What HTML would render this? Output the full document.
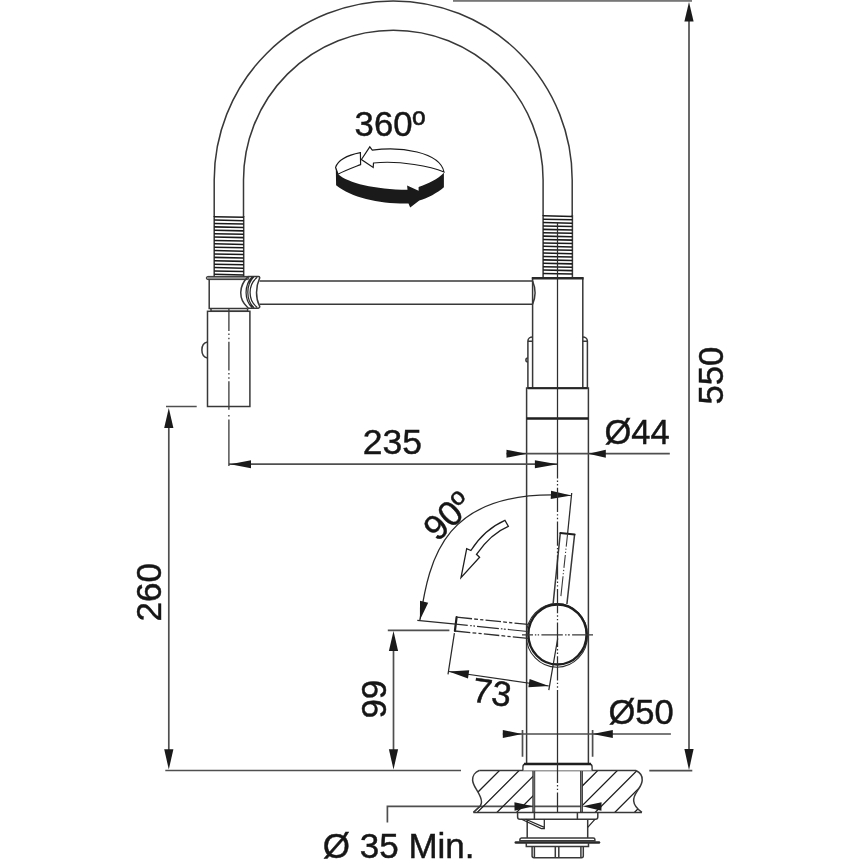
<!DOCTYPE html>
<html><head><meta charset="utf-8"><style>
html,body{margin:0;padding:0;background:#fff;width:860px;height:860px;overflow:hidden}
svg{display:block;will-change:transform}
text{font-family:"Liberation Sans",sans-serif;fill:#161616;stroke:#161616;stroke-width:0.45}
.o{fill:none;stroke:#383838;stroke-width:1.5}
.t{fill:none;stroke:#2a2a2a;stroke-width:1.25}
.d{fill:none;stroke:#4f4f4f;stroke-width:1.7}
.a{fill:#1a1a1a;stroke:none}
</style></head><body>
<svg width="860" height="860" viewBox="0 0 860 860">
<rect x="453" y="0" width="239" height="1.8" fill="#777"/>
<line class="d" x1="689" y1="12" x2="689" y2="760"/>
<path class="a" d="M689.00,2.00 L693.60,21.60 L684.40,21.60Z"/>
<path class="a" d="M689.00,770.00 L684.40,749.00 L693.60,749.00Z"/>
<line class="d" x1="649.3" y1="770.6" x2="692.3" y2="770.6"/>
<text font-size="34.7" transform="translate(723,404.5) rotate(-90)">550</text>
<path class="o" d="M214.2,217 V180 A179,179 0 0 1 572.2,180 V216"/>
<path class="o" d="M243.5,217 V180 A149.8,149.8 0 0 1 543.1,180 V216"/>
<text x="354.6" y="135.5" font-size="34.7">360º</text>
<path fill="#fff" stroke="#1a1a1a" stroke-width="1.2" stroke-linejoin="miter" d="M335.6,167.4 C338,160 348,155 360.4,152.6 L360.6,164.6 C352,168 344,171 338,174.2 Z"/>
<path fill="#fff" stroke="#1a1a1a" stroke-width="1.2" stroke-linejoin="miter" d="M361.4,159.5 L369.8,146.8 L372.3,150.2 C400,146 440,152 444,172 C432,167 400,160 373.5,163 L373.2,167.4 Z"/>
<path class="a" d="M335.8,167.6 L338.1,174.2 C348,183 375,189.5 407.5,189.7 L407.1,185.5 L418.6,190.7 L418.6,186.9 C428,184 438,179 443.9,172.8 L443.9,187.2 C437,193 428,198 419.3,200.5 L410.2,207.5 L408.5,203.5 C380,204 352,198 336.1,185.2 Z"/>
<path class="o" d="M214.2,216 V277 M243.7,216 V277"/>
<path fill="none" stroke="#1a1a1a" stroke-width="1.55" d="M214.2,216.70 L243.7,217.30 M214.2,220.09 L243.7,220.69 M214.2,223.48 L243.7,224.08 M214.2,226.87 L243.7,227.47 M214.2,230.26 L243.7,230.86 M214.2,233.65 L243.7,234.25 M214.2,237.04 L243.7,237.64 M214.2,240.43 L243.7,241.03 M214.2,243.82 L243.7,244.42 M214.2,247.21 L243.7,247.81 M214.2,250.60 L243.7,251.20 M214.2,253.99 L243.7,254.59 M214.2,257.38 L243.7,257.98 M214.2,260.77 L243.7,261.37 M214.2,264.16 L243.7,264.76 M214.2,267.55 L243.7,268.15 M214.2,270.94 L243.7,271.54 M214.2,274.33 L243.7,274.93"/>
<path class="o" d="M543.1,215 V277 M572.4,215 V277"/>
<path fill="none" stroke="#1a1a1a" stroke-width="1.55" d="M543.1,215.80 L572.4,216.40 M543.1,219.19 L572.4,219.79 M543.1,222.58 L572.4,223.18 M543.1,225.97 L572.4,226.57 M543.1,229.36 L572.4,229.96 M543.1,232.75 L572.4,233.35 M543.1,236.14 L572.4,236.74 M543.1,239.53 L572.4,240.13 M543.1,242.92 L572.4,243.52 M543.1,246.31 L572.4,246.91 M543.1,249.70 L572.4,250.30 M543.1,253.09 L572.4,253.69 M543.1,256.48 L572.4,257.08 M543.1,259.87 L572.4,260.47 M543.1,263.26 L572.4,263.86 M543.1,266.65 L572.4,267.25 M543.1,270.04 L572.4,270.64 M543.1,273.43 L572.4,274.03"/>
<path class="o" d="M259.5,281 H532.6 M259.5,304.2 H532.6"/>
<path class="o" d="M532.6,281 Q537.5,292.6 532.6,304.2"/>
<rect x="206.3" y="276.4" width="42.6" height="3.2" rx="1.5" fill="#8a8a8a" stroke="#333" stroke-width="1"/>
<path class="o" d="M209.2,279.5 V308.6 H247.6 M211,308.6 V311.3 H247.6 V308.6"/>
<rect class="o" x="207.5" y="311.3" width="42.4" height="95.2"/>
<path class="o" d="M207.5,342 C200,343.5 200,356.5 207.5,358"/>
<path class="o" fill="#fff" d="M248.1,276.6 C238.5,286 238.5,299 247,306.8 L248.5,308.3 L258.2,308.3 C260,308 260,306.5 259.3,305.5 C255.6,298 255.6,287 259.3,279 C260,278 259.8,276.6 258.5,276.6 Z"/>
<path class="t" d="M252.3,276.8 C244,285 244,300 252.3,307.8 M253.8,276.8 C245.8,285 245.8,300 254,307.8 M257.2,277.3 C247.7,285 247.7,300 257.2,307.4"/>
<path class="o" d="M532.6,277.4 V388 M582.8,277.4 V388"/>
<line x1="531.8" y1="278.2" x2="583.6" y2="278.2" stroke="#2a2a2a" stroke-width="2.6"/>
<path class="o" d="M532.6,388 H527.9 V341 A4.6,4.2 0 0 1 532.6,337 M527.9,341.2 H532.6 M582.8,388 H587.4 V341 A4.6,4.2 0 0 0 582.8,337 M587.4,341.2 H582.8"/>
<path class="o" d="M527.9,358 A2,2 0 0 0 527.9,362"/>
<rect class="o" x="526.6" y="388" width="61.8" height="375.7"/>
<line x1="526.6" y1="418.5" x2="588.4" y2="418.5" stroke="#1e1e1e" stroke-width="2.6"/>
<line x1="527.9" y1="388.2" x2="587.4" y2="388.2" stroke="#262626" stroke-width="1.9"/>
<path class="d" d="M168.8,418 V760 M166,406.5 H196.7 M165.3,770.5 H461"/>
<path class="a" d="M168.80,408.00 L173.40,428.00 L164.20,428.00Z"/>
<path class="a" d="M168.80,769.50 L164.20,749.30 L173.40,749.30Z"/>
<text font-size="35" transform="translate(160.6,621.4) rotate(-90)">260</text>
<path class="d" d="M229,464.2 H557.4"/>
<path class="a" d="M230.20,464.20 L251.00,460.20 L251.00,468.20Z"/>
<path class="a" d="M557.40,464.20 L534.90,468.20 L534.90,460.20Z"/>
<text x="362.8" y="453.8" font-size="35.5">235</text>
<path class="d" d="M506.5,453.7 H669.8"/>
<path class="a" d="M526.70,453.70 L506.50,457.70 L506.50,449.70Z"/>
<path class="a" d="M588.40,453.70 L605.80,449.70 L605.80,457.70Z"/>
<text x="604.4" y="444.2" font-size="34.5">Ø44</text>
<path class="d" d="M502.8,734 H670.9 M522.5,730 V756.7 M592.6,730 V756.7"/>
<path class="a" d="M522.10,734.00 L502.80,738.00 L502.80,730.00Z"/>
<path class="a" d="M592.60,734.00 L612.80,730.00 L612.80,738.00Z"/>
<text x="608.4" y="724" font-size="34.5">Ø50</text>
<text font-size="35" transform="translate(386,718.6) rotate(-90)">99</text>
<path class="d" d="M393.5,640 V760"/>
<path class="a" d="M393.50,631.00 L398.10,651.00 L388.90,651.00Z"/>
<path class="a" d="M393.50,769.50 L388.90,749.30 L398.10,749.30Z"/>
<text x="322.8" y="857.8" font-size="35">Ø 35 Min.</text>
<path class="d" d="M387.4,822.4 V806.4 H581.3"/>
<ellipse cx="556.9" cy="635.4" rx="30.6" ry="31.9" fill="none" stroke="#2e2e2e" stroke-width="1.1"/>
<ellipse cx="557.45" cy="634.5" rx="29.1" ry="30" fill="#fff" stroke="#1e1e1e" stroke-width="2.4"/>
<line x1="522" y1="634.9" x2="593" y2="634.9" stroke="#3a3a3a" stroke-width="1.3" stroke-dasharray="11 1.9 1.4 1.4 1.4 2.3 21.4 2.3 1.4 1.4 1.9 2.3 30"/>
<path class="o" d="M553.1,604.2 L560.3,533 M566.9,604.2 L574.6,534.4"/>
<path fill="none" stroke="#1e1e1e" stroke-width="2" stroke-linecap="round" d="M560.3,533 L574.6,534.4"/>
<path class="t" d="M571.7,493 L567.6,533.7"/>
<path fill="none" stroke="#3a3a3a" stroke-width="1.1" stroke-dasharray="13 2 1.2 2 1.2 2 13 2 1.2 2 1.2 2 20" d="M567.6,533.7 L560,604.5"/>
<path fill="none" stroke="#1e1e1e" stroke-width="2.2" stroke-linecap="round" d="M456.6,617.2 L454.9,631"/>
<path fill="none" stroke="#2e2e2e" stroke-width="1.3" stroke-dasharray="15.5 2.2 3.8 2.2 3.2 2.2" d="M456.6,617.2 L527.9,624.4 M454.9,631 L527.9,638.4"/>
<path fill="none" stroke="#2e2e2e" stroke-width="1.2" stroke-dasharray="12 2.5 1.6 1.6 1.6 2 22 2 1.6 1.4 2 2 20" d="M455.8,624.1 L527.6,631.5"/>
<path class="t" d="M417.3,620.3 L455.8,624.1"/>
<path class="d" d="M387.8,630.4 H449.4"/>
<path class="t" stroke-width="1.4" d="M419.9,620 C429.4,557.9 443.5,487.5 570.8,495.5"/>
<path class="a" d="M571.20,495.60 L550.74,498.90 L551.06,490.70Z"/>
<path class="a" d="M419.90,620.00 L420.01,600.76 L428.19,602.64Z"/>
<text font-size="35" text-anchor="middle" transform="translate(447.5,515.7) rotate(-44)" y="12.3">90º</text>
<path fill="#fff" stroke="#1e1e1e" stroke-width="1.3" stroke-linejoin="miter" d="M504.9,520.3 L508.3,526.3 C497,531 485,542 476.5,554.3 L479.6,557.3 L461,577.7 L466.7,548.6 L470.9,550.5 C480,536 492,526 504.9,520.3 Z"/>
<path class="t" d="M454.4,633.2 L448,674.4 M557.7,638.5 L548.8,690.2"/>
<path class="t" stroke-width="1.3" d="M448.8,671.5 L548.8,686"/>
<path class="a" d="M448.80,671.50 L469.21,670.24 L467.99,678.56Z"/>
<path class="a" d="M548.80,686.00 L528.39,687.26 L529.61,678.94Z"/>
<text font-size="35" transform="translate(471,701.5) rotate(8.25)">73</text>
<clipPath id="cl"><path d="M479.2,770.5 C475,772 472.4,776 472.6,780.1 C473,786 477,789 480.4,797 C482,801 481.5,804 480.4,805.7 L473.4,812.4 H533.8 V770.5 Z"/></clipPath>
<clipPath id="cr"><path d="M581.5,770.5 H636 C640,772.5 642.5,776 642.2,780.1 C642,785 639,788 637.2,791.2 C634,796 633.5,798 633.7,801 C634,805 636,808 641.9,812.4 H581.5 Z"/></clipPath>
<path clip-path="url(#cl)" fill="none" stroke="#1e1e1e" stroke-width="1.3" d="M440.00,830 L510.00,760 M459.65,830 L529.65,760 M479.30,830 L549.30,760 M498.95,830 L568.95,760 M518.60,830 L588.60,760 M538.25,830 L608.25,760 M557.90,830 L627.90,760 M577.55,830 L647.55,760 M597.20,830 L667.20,760 M616.85,830 L686.85,760 M473.4,812.4 L480.4,805.7"/>
<path clip-path="url(#cr)" fill="none" stroke="#1e1e1e" stroke-width="1.3" d="M440.00,830 L510.00,760 M459.65,830 L529.65,760 M479.30,830 L549.30,760 M498.95,830 L568.95,760 M518.60,830 L588.60,760 M538.25,830 L608.25,760 M557.90,830 L627.90,760 M577.55,830 L647.55,760 M597.20,830 L667.20,760 M616.85,830 L686.85,760"/>
<path class="o" d="M479.2,770.5 C475,772 472.4,776 472.6,780.1 C473,786 477,789 480.4,797 C482,801 481.5,804 480.4,805.7 L473.4,812.4"/>
<path class="o" d="M636,770.5 C640,772.5 642.5,776 642.2,780.1 C642,785 639,788 637.2,791.2 C634,796 633.5,798 633.7,801 C634,805 636,808 641.9,812.4"/>
<path class="o" d="M479.2,770.5 H636 M473.4,812.4 H641.9"/>
<rect x="532.8" y="770.5" width="2" height="41.6" fill="#777" stroke="#2a2a2a" stroke-width="0.8"/>
<rect x="580.5" y="770.5" width="2" height="41.6" fill="#777" stroke="#2a2a2a" stroke-width="0.8"/>
<path fill="#fff" stroke="#2e2e2e" stroke-width="1.3" d="M522.9,770.5 V767 Q522.9,764 525.5,764 H589.5 Q592.1,764 592.1,767 V770.5"/>
<line x1="524" y1="764" x2="591" y2="764" stroke="#1e1e1e" stroke-width="2.4"/>
<path class="a" d="M533.00,806.30 L514.55,810.80 L514.45,802.20Z"/>
<path class="a" d="M582.50,806.30 L601.55,802.20 L601.45,810.80Z"/>
<path class="o" d="M517.6,812.4 V817 Q517.6,819.3 520,819.3 H595.5 Q597.8,819.3 597.8,817 V812.4 M534.4,812.4 V819.3 M577.4,812.4 V819.3"/>
<path class="o" d="M527.2,819.3 V837.9 M587.7,819.3 V837.9"/>
<path class="t" stroke-width="1.3" d="M521.6,819.3 L541.4,828.6 L544.3,828.6 V819.3 M525.7,819.3 L544.3,827.4 M587.7,827.4 L594.9,819.3"/>
<path class="o" d="M521.5,837.9 Q519.9,838 519.9,839.4 V840.8 H594.9 V839.4 Q594.9,837.9 593.3,837.9 Z"/>
<line x1="515.8" y1="842.5" x2="599" y2="842.5" stroke="#2a2a2a" stroke-width="2.5" stroke-linecap="round"/>
<path class="o" d="M526.3,842.6 V846.6 H588.5 V842.6"/>
<path class="o" d="M532.1,846.6 V856 Q532.1,857.7 534,857.7 H581.5 Q583.3,857.7 583.3,856 V846.6 M534.4,846.6 V857.7 M580.9,846.6 V857.7 M555.3,846.6 V857.7 M558.8,846.6 V857.7"/>
<path fill="none" stroke="#2e2e2e" stroke-width="1.25" d="M557.5,222.00 V478.40 M557.5,480.50 V481.90 M557.5,484.10 V485.50 M557.5,487.80 V512.10 M557.5,514.20 V515.60 M557.5,517.80 V519.20 M557.5,521.50 V545.80 M557.5,547.90 V549.30 M557.5,551.50 V552.90 M557.5,555.20 V579.50 M557.5,581.60 V583.00 M557.5,585.20 V586.60 M557.5,588.90 V613.20 M557.5,615.30 V616.70 M557.5,618.90 V620.30 M557.5,622.60 V646.90 M557.5,649.00 V650.40 M557.5,652.60 V654.00 M557.5,656.30 V680.60 M557.5,682.70 V684.10 M557.5,686.30 V687.70 M557.5,690.00 V783.00 M557.5,785.10 V786.50 M557.5,788.70 V790.10 M557.5,792.40 V812.30"/>
<path fill="none" stroke="#3a3a3a" stroke-width="1.3" d="M228.9,309.00 V331.00 M228.9,333.50 V335.10 M228.9,337.70 V339.30 M228.9,341.80 V370.50 M228.9,373.00 V374.60 M228.9,377.20 V378.80 M228.9,381.30 V409.7 M228.9,415 V416.4 M228.9,419.6 V466"/>
</svg>
</body></html>
